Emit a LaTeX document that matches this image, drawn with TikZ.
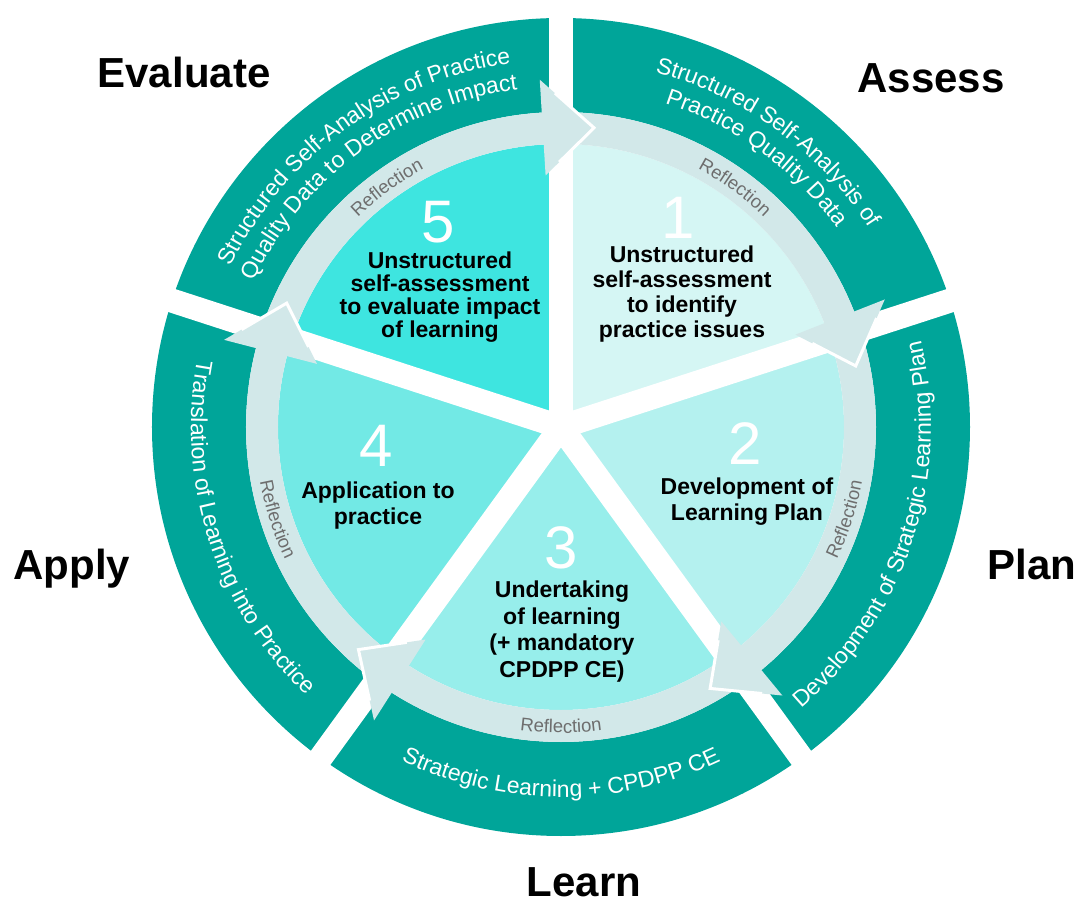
\documentclass[tikz,border=0pt]{standalone}
\usepackage{fontspec}
\setmainfont{Liberation Sans}
\usetikzlibrary{decorations.text,calc}

\definecolor{ringteal}{HTML}{00A599}
\definecolor{reflect}{HTML}{D2E8E9}
\definecolor{wedgeA}{HTML}{D5F6F4}
\definecolor{wedgeB}{HTML}{B4F1EF}
\definecolor{wedgeC}{HTML}{97EEEB}
\definecolor{wedgeD}{HTML}{72E9E5}
\definecolor{wedgeE}{HTML}{3EE5E0}
\definecolor{reflgray}{HTML}{6E6E6E}

\newcommand\ringfont{\fontsize{23}{27}\selectfont}
\newcommand\reflfont{\fontsize{18.5}{22}\selectfont}

\begin{document}
\begin{tikzpicture}[x=1pt,y=1pt,
  phase/.style={font=\fontsize{42}{48}\selectfont\bfseries, anchor=base, inner sep=0pt},
  stepnum/.style={font=\fontsize{60}{66}\selectfont, text=white, anchor=base, inner sep=0pt},
  stepdesc/.style={font=\fontsize{23}{#1}\selectfont\bfseries, align=center, anchor=north, inner sep=0pt},
  gapline/.style={white, line width=24pt},
  headedge/.style={white, line width=3pt},
]
\useasboundingbox (-561,-474) rectangle (517,427);

% outer teal ring
\fill[ringteal, even odd rule] (0,0) circle[radius=409] (0,0) circle[radius=315];

% inner pie of five steps
\fill[wedgeA] (0,0) -- (90:283) arc[start angle=90, end angle=18, radius=283] -- cycle;
\fill[wedgeB] (0,0) -- (18:283) arc[start angle=18, end angle=-54, radius=283] -- cycle;
\fill[wedgeC] (0,0) -- (-54:283) arc[start angle=-54, end angle=-126, radius=283] -- cycle;
\fill[wedgeD] (0,0) -- (-126:283) arc[start angle=-126, end angle=-198, radius=283] -- cycle;
\fill[wedgeE] (0,0) -- (162:283) arc[start angle=162, end angle=90, radius=283] -- cycle;

% white separators between the segments
\coordinate (O) at (0,0);
\foreach \g in {90,18,-54,-126,162}
  \draw[gapline] (O) -- (\g:440);

% reflection ring
\fill[reflect, even odd rule] (0,0) circle[radius=315] (0,0) circle[radius=283];

% arrow heads of the reflection cycle
\foreach \g in {90,18,-54,-126,162} {
  \coordinate (hb1) at ({\g+3.5}:252);
  \coordinate (hb2) at ({\g+3.5}:348);
  \coordinate (ht) at ({\g-6.3}:301);
  \fill[reflect] (hb1) -- (ht) -- (hb2) -- cycle;
  \draw[headedge] ($(ht)!0.72!(hb1)$) -- (ht) -- ($(ht)!0.72!(hb2)$);
}

% labels along the teal ring
\path[decorate, decoration={text along path, text align=center, text color=white,
  text={|\ringfont|Structured Self-Analysis of}}]
  (90:367) arc[start angle=90, end angle=18, radius=367];
\path[decorate, decoration={text along path, text align=center, text color=white,
  text={|\ringfont|Practice Quality Data}}]
  (90:340) arc[start angle=90, end angle=18, radius=340];
\path[decorate, decoration={text along path, text align=center, text color=white,
  text={|\ringfont|Structured Self-Analysis of Practice}}]
  (162:367) arc[start angle=162, end angle=90, radius=367];
\path[decorate, decoration={text along path, text align=center, text color=white,
  text={|\ringfont|Quality Data to Determine Impact}}]
  (162:340) arc[start angle=162, end angle=90, radius=340];
\path[decorate, decoration={text along path, text align=center, text color=white,
  text={|\ringfont|Development of Strategic Learning Plan}}]
  (-54:370) arc[start angle=-54, end angle=18, radius=370];
\path[decorate, decoration={text along path, text align=center, text color=white,
  text={|\ringfont|Strategic Learning + CPDPP CE}}]
  (-126:370) arc[start angle=-126, end angle=-54, radius=370];
\path[decorate, decoration={text along path, text align=center, text color=white,
  text={|\ringfont|Translation of Learning into Practice}}]
  (162:370) arc[start angle=162, end angle=234, radius=370];

% reflection labels
\path[decorate, decoration={text along path, text align=center, text color=reflgray,
  text={|\reflfont|Reflection}}]
  (84:292) arc[start angle=84, end angle=24, radius=292];
\path[decorate, decoration={text along path, text align=center, text color=reflgray,
  text={|\reflfont|Reflection}}]
  (156:292) arc[start angle=156, end angle=96, radius=292];
\path[decorate, decoration={text along path, text align=center, text color=reflgray,
  text={|\reflfont|Reflection}}]
  (-48:306) arc[start angle=-48, end angle=12, radius=306];
\path[decorate, decoration={text along path, text align=center, text color=reflgray,
  text={|\reflfont|Reflection}}]
  (-120:306) arc[start angle=-120, end angle=-60, radius=306];
\path[decorate, decoration={text along path, text align=center, text color=reflgray,
  text={|\reflfont|Reflection}}]
  (168:306) arc[start angle=168, end angle=228, radius=306];

% step numbers
\node[stepnum] (n1) at (117,188) {1};
\node[stepnum] (n2) at (184,-38) {2};
\node[stepnum] (n3) at (0,-142) {3};
\node[stepnum] (n4) at (-185,-40) {4};
\node[stepnum] (n5) at (-123,184) {5};

% step descriptions
\node[stepdesc=25] (d1) at (121,181.5) {Unstructured\\self-assessment\\to identify\\practice issues};
\node[stepdesc=26] (d2) at (186,-51) {Development of\\Learning Plan};
\node[stepdesc=26.5] (d3) at (1,-154) {Undertaking\\of learning\\(+ mandatory\\CPDPP CE)};
\node[stepdesc=26] (d4) at (-183,-55) {Application to\\practice};
\node[stepdesc=23] (d5) at (-121,175.5) {Unstructured\\self-assessment\\to evaluate impact\\of learning};

% phase names
\node[phase] (evaluate) at (-377,339) {Evaluate};
\node[phase] (assess) at (370,334) {Assess};
\node[phase] (plan) at (471,-153) {Plan};
\node[phase] (learn) at (23,-469) {Learn};
\node[phase] (apply) at (-489,-153) {Apply};
\end{tikzpicture}
\end{document}
